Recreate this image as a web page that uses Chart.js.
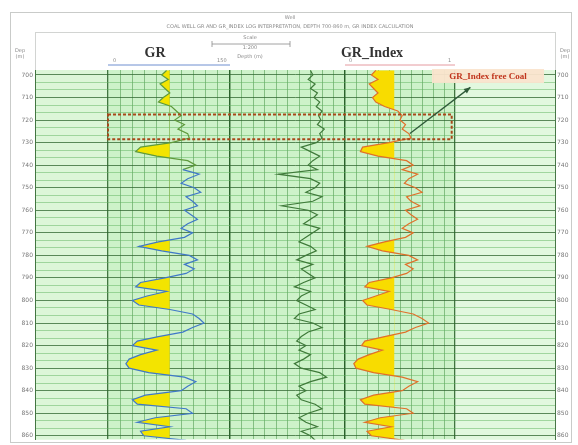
<!DOCTYPE html>
<html>
<head>
<meta charset="utf-8">
<script src="https://cdn.jsdelivr.net/npm/chart.js@4.4.1/dist/chart.umd.min.js"></script>
<style>
  html, body { margin: 0; padding: 0; background: #fff; }
</style>
</head>
<body>
<canvas id="logChart" width="578" height="445"></canvas>
<script>
// 深度 (m)
const depths = [698, 700, 702, 704, 706, 708, 710, 712, 714, 716, 718, 720, 722, 724, 726, 728, 730,
  732, 734, 736, 738, 740, 742, 744, 746, 748, 750, 752, 754, 756, 758, 760, 762, 764, 766, 768, 770,
  772, 774, 776, 778, 780, 782, 784, 786, 788, 790, 792, 794, 796, 798, 800, 802, 804, 806, 808, 810,
  812, 814, 816, 818, 820, 822, 824, 826, 828, 830, 832, 834, 836, 838, 840, 842, 844, 846, 848, 850,
  852, 854, 856, 858, 860, 862];

// GR (API)
const grValues = [72, 66, 74, 64, 70, 76, 68, 62, 78, 84, 90, 82, 94, 86, 98, 100, 78,
  40, 34, 60, 98, 108, 92, 112, 98, 90, 106, 114, 96, 104, 110, 94, 102, 110, 98, 90, 104,
  94, 62, 38, 66, 100, 110, 94, 106, 96, 70, 40, 34, 72, 48, 30, 38, 76, 104, 112, 118,
  104, 92, 62, 36, 30, 60, 40, 26, 22, 26, 50, 94, 108, 98, 90, 46, 30, 36, 96, 104,
  58, 36, 76, 40, 44, 96];

// 中央トラックの曲線
const rtValues = [70, 72, 68, 74, 70, 76, 73, 78, 75, 80, 77, 79, 76, 82, 78, 80, 75,
  62, 70, 78, 72, 68, 76, 42, 70, 78, 74, 66, 80, 72, 45, 68, 76, 70, 64, 78, 72,
  66, 60, 70, 75, 66, 58, 72, 62, 68, 74, 64, 56, 70, 62, 58, 66, 74, 60, 56, 72,
  80, 68, 62, 58, 66, 60, 70, 64, 56, 62, 78, 84, 70, 60, 66, 58, 62, 74, 80, 68,
  60, 66, 76, 62, 70, 74];

// GR_Index (0-1)
const grIndexValues = [0.28, 0.24, 0.30, 0.22, 0.26, 0.30, 0.25, 0.28, 0.36, 0.48, 0.52, 0.50, 0.55, 0.52, 0.58, 0.60, 0.40,
  0.16, 0.14, 0.30, 0.56, 0.62, 0.52, 0.66, 0.58, 0.54, 0.64, 0.70, 0.56, 0.60, 0.68, 0.55, 0.60, 0.66, 0.58, 0.52, 0.62,
  0.55, 0.36, 0.20, 0.34, 0.58, 0.66, 0.55, 0.62, 0.56, 0.42, 0.22, 0.18, 0.40, 0.28, 0.16, 0.20, 0.42, 0.62, 0.70, 0.76,
  0.64, 0.55, 0.36, 0.18, 0.15, 0.34, 0.22, 0.12, 0.08, 0.10, 0.26, 0.52, 0.66, 0.58, 0.52, 0.26, 0.14, 0.18, 0.56, 0.62,
  0.32, 0.18, 0.42, 0.20, 0.24, 0.54];

// 深度目盛り
const depthLabels = [700, 710, 720, 730, 740, 750, 760, 770, 780, 790, 800, 810, 820, 830, 840, 850, 860];
const grScaleLabels = ['0', '150'];
const indexScaleLabels = ['0', '1'];

// トラック配置（チャート幅に対する割合）
const tracks = {
  xGR:  { from: 73 / 520, to: 195 / 520, lo: 0, hi: 150, step: 15 },
  xRT:  { from: 195 / 520, to: 310 / 520, lo: 0, hi: 100, step: 10 },
  xIdx: { from: 310 / 520, to: 420 / 520, lo: 0, hi: 1, step: 0.1 }
};

// 黄色の塗りつぶし（カットオフより左側）
const sandFills = [
  { dataset: 0, axis: 'xGR', cutoff: 76, color: '#f3e400' },
  { dataset: 2, axis: 'xIdx', cutoff: 0.45, color: '#f8dc00' }
];

function trackAxis(t) {
  const span = (t.hi - t.lo) / (t.to - t.from);
  const min = t.lo - t.from * span;
  return {
    type: 'linear',
    position: 'bottom',
    min: min,
    max: min + span,
    ticks: { display: false },
    border: { display: false },
    grid: {
      drawTicks: false,
      color: ctx => {
        const v = ctx.tick.value;
        if (Math.abs(v - t.lo) < 1e-6 || Math.abs(v - t.hi) < 1e-6) return 'rgba(40,95,40,0.85)';
        return 'rgba(60,140,60,0.5)';
      },
      lineWidth: ctx => {
        const v = ctx.tick.value;
        return (Math.abs(v - t.lo) < 1e-6 || Math.abs(v - t.hi) < 1e-6) ? 1.3 : 1;
      }
    },
    afterBuildTicks: axis => {
      const arr = [];
      for (let v = t.lo; v <= t.hi + t.step / 2; v += t.step) arr.push({ value: +v.toFixed(4) });
      axis.ticks = arr;
    },
    afterFit: axis => { axis.height = 0; }
  };
}

function depthTicks(axis) {
  const arr = [];
  depthLabels.forEach((d, i) => {
    arr.push({ value: d });
    if (i < depthLabels.length - 1) {
      arr.push({ value: d + 10 / 3 });
      arr.push({ value: d + 20 / 3 });
    }
  });
  axis.ticks = arr;
}

const bgPlugin = {
  id: 'bgPlugin',
  beforeDraw(chart) {
    const ctx = chart.ctx;
    const a = chart.chartArea;
    ctx.save();
    ctx.fillStyle = '#ffffff';
    ctx.fillRect(0, 0, chart.width, chart.height);
    ctx.strokeStyle = '#c9cbc9';
    ctx.lineWidth = 1;
    ctx.strokeRect(10.5, 12.5, 561, 430);
    ctx.strokeStyle = '#d2d4d2';
    ctx.strokeRect(a.left + 0.5, 32.5, a.right - a.left, a.top - 32);
    // トラック背景
    const gx = chart.scales.xGR;
    const ix = chart.scales.xIdx;
    ctx.fillStyle = '#cdf2c9';
    ctx.fillRect(a.left, a.top, a.right - a.left, a.bottom - a.top);
    ctx.fillStyle = '#dcf6d8';
    ctx.fillRect(a.left, a.top, gx.getPixelForValue(0) - a.left, a.bottom - a.top);
    ctx.fillStyle = '#e2f8df';
    ctx.fillRect(ix.getPixelForValue(1), a.top, a.right - ix.getPixelForValue(1), a.bottom - a.top);
    ctx.restore();
  },
  beforeDatasetsDraw(chart) {
    const ctx = chart.ctx;
    const a = chart.chartArea;
    sandFills.forEach(f => {
      const pts = chart.getDatasetMeta(f.dataset).data;
      const cx = chart.scales[f.axis].getPixelForValue(f.cutoff);
      ctx.save();
      ctx.beginPath();
      ctx.rect(a.left, a.top, cx - a.left, a.bottom - a.top);
      ctx.clip();
      ctx.beginPath();
      ctx.moveTo(cx, pts[0].y);
      pts.forEach(p => ctx.lineTo(p.x, p.y));
      ctx.lineTo(cx, pts[pts.length - 1].y);
      ctx.closePath();
      ctx.fillStyle = f.color;
      ctx.fill();
      ctx.restore();
    });
  },
  afterDatasetsDraw(chart) {
    const ctx = chart.ctx;
    const gx = chart.scales.xGR;
    const ix = chart.scales.xIdx;
    const y = chart.scales.y;
    ctx.save();
    // GR_Index free Coal の枠
    const x0 = gx.getPixelForValue(0), x1 = ix.getPixelForValue(0.97);
    const y0 = y.getPixelForValue(717.5), y1 = y.getPixelForValue(728.5);
    ctx.strokeStyle = '#a8481a';
    ctx.lineWidth = 2;
    ctx.setLineDash([3, 2]);
    ctx.strokeRect(x0, y0, x1 - x0, y1 - y0);
    ctx.setLineDash([]);
    // 矢印
    const ax0 = ix.getPixelForValue(0.59), ay0 = y.getPixelForValue(726);
    const ax1 = ix.getPixelForValue(1.14), ay1 = y.getPixelForValue(705.5);
    ctx.strokeStyle = '#2f5a3a';
    ctx.lineWidth = 1.3;
    ctx.beginPath();
    ctx.moveTo(ax0, ay0);
    ctx.lineTo(ax1, ay1);
    ctx.stroke();
    const ang = Math.atan2(ay1 - ay0, ax1 - ax0);
    ctx.fillStyle = '#2f5a3a';
    ctx.beginPath();
    ctx.moveTo(ax1, ay1);
    ctx.lineTo(ax1 - 7 * Math.cos(ang - 0.4), ay1 - 7 * Math.sin(ang - 0.4));
    ctx.lineTo(ax1 - 7 * Math.cos(ang + 0.4), ay1 - 7 * Math.sin(ang + 0.4));
    ctx.closePath();
    ctx.fill();
    // ラベル
    ctx.fillStyle = 'rgba(250,228,205,0.95)';
    ctx.fillRect(432, 69, 112, 14);
    ctx.font = 'bold 9px "Liberation Serif"';
    ctx.fillStyle = '#c0341c';
    ctx.textAlign = 'center';
    ctx.textBaseline = 'middle';
    ctx.fillText('GR_Index free Coal', 488, 76.5);
    ctx.restore();
  },
  afterDraw(chart) {
    const ctx = chart.ctx;
    const gx = chart.scales.xGR;
    const ix = chart.scales.xIdx;
    ctx.save();
    ctx.textAlign = 'center';
    ctx.textBaseline = 'middle';
    ctx.fillStyle = '#8a8a8a';
    ctx.font = '5px "DejaVu Sans"';
    ctx.fillText('Well', 290, 18);
    ctx.fillText('COAL WELL GR AND GR_INDEX LOG INTERPRETATION, DEPTH 700-860 m, GR INDEX CALCULATION', 290, 27);
    // 中央のスケール
    ctx.fillText('Scale', 250, 38);
    ctx.fillText('Depth (m)', 250, 57);
    ctx.fillText('1:200', 250, 48);
    ctx.strokeStyle = '#8a8a8a';
    ctx.lineWidth = 0.8;
    ctx.beginPath();
    ctx.moveTo(212, 44); ctx.lineTo(290, 44);
    ctx.moveTo(212, 41); ctx.lineTo(212, 47);
    ctx.moveTo(290, 41); ctx.lineTo(290, 47);
    ctx.stroke();
    ctx.fillText('Dep', 20, 51);
    ctx.fillText('(m)', 20, 57);
    ctx.fillText('Dep', 565, 51);
    ctx.fillText('(m)', 565, 57);
    // トラック名
    ctx.fillStyle = '#333';
    ctx.font = 'bold 14px "Liberation Serif"';
    ctx.fillText('GR', 155, 53);
    ctx.fillText('GR_Index', 372, 53);
    // 曲線スケール
    ctx.lineWidth = 1;
    ctx.strokeStyle = '#6f8fd0';
    ctx.beginPath();
    ctx.moveTo(gx.getPixelForValue(0), 65);
    ctx.lineTo(gx.getPixelForValue(150), 65);
    ctx.stroke();
    ctx.strokeStyle = '#e59aa0';
    ctx.beginPath();
    ctx.moveTo(ix.getPixelForValue(0), 65);
    ctx.lineTo(ix.getPixelForValue(1), 65);
    ctx.stroke();
    ctx.fillStyle = '#8a8a8a';
    ctx.font = '5px "DejaVu Sans"';
    ctx.fillText(grScaleLabels[0], gx.getPixelForValue(8), 61);
    ctx.fillText(grScaleLabels[1], gx.getPixelForValue(140), 61);
    ctx.fillText(indexScaleLabels[0], ix.getPixelForValue(0.05), 61);
    ctx.fillText(indexScaleLabels[1], ix.getPixelForValue(0.95), 61);
    ctx.restore();
  }
};

const depthAxisBase = {
  type: 'linear',
  reverse: true,
  min: 697.8,
  max: 861.6,
  afterBuildTicks: depthTicks,
  border: { color: 'rgba(40,95,40,0.85)' },
  ticks: {
    autoSkip: false,
    padding: 2,
    color: '#777',
    font: { size: 6, family: 'DejaVu Sans' },
    callback: v => depthLabels.includes(v) ? v : ''
  }
};

new Chart(document.getElementById('logChart').getContext('2d'), {
  type: 'scatter',
  data: {
    datasets: [
      {
        label: 'GR',
        data: depths.map((d, i) => ({ x: grValues[i], y: d })),
        xAxisID: 'xGR',
        yAxisID: 'y',
        showLine: true,
        pointRadius: 0,
        borderWidth: 1.2,
        borderColor: '#3f78c8',
        segment: { borderColor: ctx => ctx.p0.parsed.y < 742 ? '#5f9a3c' : '#3f78c8' }
      },
      {
        label: 'RT',
        data: depths.map((d, i) => ({ x: rtValues[i], y: d })),
        xAxisID: 'xRT',
        yAxisID: 'y',
        showLine: true,
        pointRadius: 0,
        borderWidth: 1.2,
        borderColor: '#3f7a3a'
      },
      {
        label: 'GR_Index',
        data: depths.map((d, i) => ({ x: grIndexValues[i], y: d })),
        xAxisID: 'xIdx',
        yAxisID: 'y',
        showLine: true,
        pointRadius: 0,
        borderWidth: 1.2,
        borderColor: '#e0702a'
      }
    ]
  },
  options: {
    responsive: false,
    animation: false,
    devicePixelRatio: 1,
    layout: { padding: { left: 10, right: 6, top: 70, bottom: 3 } },
    scales: {
      xGR: trackAxis(tracks.xGR),
      xRT: trackAxis(tracks.xRT),
      xIdx: trackAxis(tracks.xIdx),
      y: Object.assign({}, depthAxisBase, {
        position: 'left',
        afterFit: axis => { axis.width = 25; },
        grid: {
          drawTicks: false,
          color: ctx => depthLabels.includes(ctx.tick.value) ? 'rgba(45,100,45,0.75)' : 'rgba(95,180,95,0.5)'
        }
      }),
      y2: Object.assign({}, depthAxisBase, {
        position: 'right',
        afterFit: axis => { axis.width = 17; },
        grid: { display: false, drawTicks: false }
      })
    },
    plugins: {
      legend: { display: false },
      tooltip: { enabled: false }
    }
  },
  plugins: [bgPlugin]
});
</script>
</body>
</html>
